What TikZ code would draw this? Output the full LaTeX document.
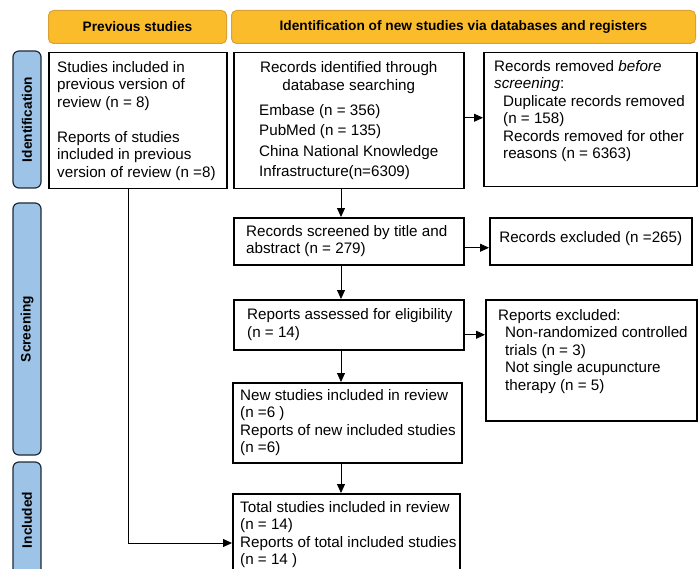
\documentclass[tikz,border=0pt]{standalone}
\usepackage{fontspec}
\setmainfont{Liberation Sans}
\usetikzlibrary{arrows.meta}
\definecolor{headfill}{HTML}{FBBC2C}
\definecolor{headline}{HTML}{D9A032}
\definecolor{stagefill}{HTML}{9DC3E6}
\definecolor{stageline}{HTML}{1F2A36}

\begin{document}
\begin{tikzpicture}[x=1pt,y=-1pt,
  head/.style={draw=headline, fill=headfill, line width=1pt, rounded corners=5pt,
    anchor=north west, minimum height=33pt, inner sep=0pt,
    font=\bfseries\fontsize{13.7}{16}\selectfont},
  stage/.style={draw=stageline, fill=stagefill, line width=1.2pt, rounded corners=6pt,
    rotate=90, minimum height=28pt, inner sep=0pt,
    font=\bfseries\fontsize{13.7}{16}\selectfont},
  box/.style={draw, line width=1.5pt, anchor=north west, inner sep=0pt},
  txt/.style={align=left, inner sep=0pt, font=\fontsize{15.2}{17.5}\selectfont},
  arr/.style={line width=0.8pt, -{Triangle[length=9pt,width=8pt]}}]
\useasboundingbox (0,0) rectangle (700,569);

% headers and stages
\node[head, minimum width=178pt] (hprev) at (48,10) {Previous studies};
\node[head, minimum width=464pt] (hnew) at (231,10) {Identification of new studies via databases and registers};
\node[stage, minimum width=137pt] (sident) at (27,119.5) {Identification};
\node[stage, minimum width=252pt] (sscreen) at (27,329) {Screening};
\node[stage, minimum width=116pt] (sincl) at (27,520) {Included};

% boxes
\node[box, minimum width=178pt, minimum height=136pt] (prev) at (48,52) {};
\node[txt, anchor=west] (prev-t) at ([xshift=9pt]prev.west)
  {Studies included in\\ previous version of\\ review (n = 8)\\[17.5pt]
   Reports of studies\\ included in previous\\ version of review (n =8)};

\node[box, minimum width=230pt, minimum height=136pt] (ident) at (233,52) {};
\node[txt] (ident-t) at (ident.center)
  {\begin{tabular}{@{}l@{}}
   \multicolumn{1}{@{}c@{}}{Records identified through}\\[1pt]
   \multicolumn{1}{@{}c@{}}{database searching}\\[7pt]
   Embase (n = 356)\\[3pt]
   PubMed (n = 135)\\[3pt]
   China National Knowledge\\[2.5pt]
   Infrastructure(n=6309)
   \end{tabular}};

\node[box, minimum width=213pt, minimum height=134pt] (removed) at (483,52) {};
\node[txt, anchor=north west] (removed-t) at ([shift={(11,8)}]removed.north west)
  {Records removed \textit{before}\\ \textit{screening}:\\
   \hspace*{9pt}Duplicate records removed\\ \hspace*{9pt}(n = 158)\\
   \hspace*{9pt}Records removed for other\\ \hspace*{9pt}reasons (n = 6363)};

\node[box, minimum width=230pt, minimum height=47pt] (screened) at (233,217) {};
\node[txt, anchor=west] (screened-t) at ([xshift=13pt]screened.west)
  {Records screened by title and\\ abstract (n = 279)};

\node[box, minimum width=202pt, minimum height=47pt] (excl) at (489,217) {};
\node[txt] (excl-t) at ([yshift=3pt]excl.center) {Records excluded (n =265)};

\node[box, minimum width=230pt, minimum height=50pt] (assessed) at (233,299) {};
\node[txt, anchor=west] (assessed-t) at ([xshift=14pt]assessed.west)
  {Reports assessed for eligibility\\ (n = 14)};

\node[box, minimum width=211pt, minimum height=121pt] (rexcl) at (485,299) {};
\node[txt, anchor=north west] (rexcl-t) at ([shift={(13,10)}]rexcl.north west)
  {Reports excluded:\\
   \hspace*{7pt}Non-randomized controlled\\ \hspace*{7pt}trials (n = 3)\\
   \hspace*{7pt}Not single acupuncture\\ \hspace*{7pt}therapy (n = 5)};

\node[box, minimum width=229pt, minimum height=80pt] (newst) at (232,382) {};
\node[txt, anchor=west] (newst-t) at ([xshift=8pt]newst.west)
  {New studies included in review\\ (n =6 )\\ Reports of new included studies\\ (n =6)};

\node[box, minimum width=227pt, minimum height=82pt] (total) at (232,493) {};
\node[txt, anchor=west] (total-t) at ([xshift=8pt]total.west)
  {Total studies included in review\\ (n = 14)\\ Reports of total included studies\\ (n = 14 )};

% connectors
\coordinate (col) at (341,0);
\coordinate (drop) at (128,543);
\draw[arr] (ident.south -| col) -- (screened.north -| col);
\draw[arr] (screened.south -| col) -- (assessed.north -| col);
\draw[arr] (assessed.south -| col) -- (newst.north -| col);
\draw[arr] (newst.south -| col) -- (total.north -| col);
\draw[arr] ([yshift=3pt]ident.east) -- ([yshift=3pt]ident.east -| removed.west);
\draw[arr] ([yshift=-6.5pt]screened.east) -- ([yshift=-6.5pt]screened.east -| excl.west);
\draw[arr] ([yshift=-10pt]assessed.east) -- ([yshift=-10pt]assessed.east -| rexcl.west);
\draw[arr] (prev.south -| drop) -- (drop) -- (drop -| total.west);
\end{tikzpicture}
\end{document}
